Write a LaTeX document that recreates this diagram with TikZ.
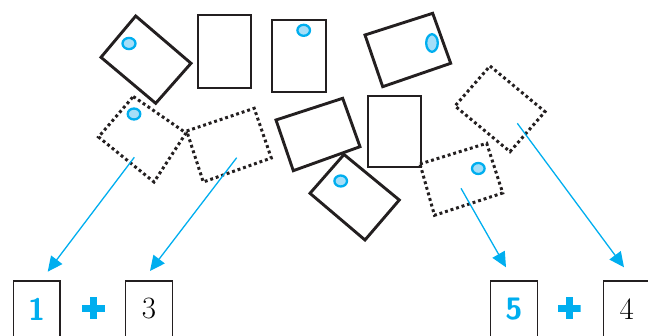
\documentclass[tikz,border=0pt]{standalone}
\usetikzlibrary{arrows.meta}
\definecolor{ink}{RGB}{35,31,32}
\definecolor{pcyan}{RGB}{0,174,239}
\definecolor{lcyan}{RGB}{165,222,248}
\begin{document}
\begin{tikzpicture}[x=1pt,y=-1pt,
  solidcard/.style={draw=ink,line width=2.9pt,line join=miter},
  dotcard/.style={draw=ink,line width=3pt,dash pattern=on 2.9pt off 2.9pt},
  marker/.style={draw=pcyan,fill=lcyan,line width=2.3pt},
  pointer/.style={draw=pcyan,line width=1.3pt,-{Triangle[length=15pt,width=14pt]}},
  numbox/.style={draw=ink,line width=1.2pt,minimum width=46.7pt,minimum height=56pt,inner sep=0pt,
    font=\fontsize{31}{31}\selectfont},
  cyannum/.style={text=pcyan,font=\fontsize{31}{31}\selectfont\sffamily\bfseries},
  plussign/.style={minimum width=23pt,minimum height=22pt,inner sep=0pt,
    path picture={
      \fill[pcyan] ([xshift=-3.5pt]path picture bounding box.north) rectangle ([xshift=3.5pt]path picture bounding box.south);
      \fill[pcyan] ([yshift=-3.5pt]path picture bounding box.west) rectangle ([yshift=3.5pt]path picture bounding box.east);}}
]
\useasboundingbox (0,0) rectangle (648,336);

% solid cards
\draw[solidcard] (135.7,16) -- (191,63.3) -- (155.7,103.3) -- (101,57.3) -- cycle;
\draw[solidcard] (198,15) rectangle (251,88);
\draw[solidcard] (272,20) rectangle (326,92);
\draw[solidcard] (365,35) -- (432.7,13.3) -- (450.7,63.3) -- (382.7,86.7) -- cycle;
\draw[solidcard] (276,120) -- (342.7,98.3) -- (360,146.7) -- (293.3,170.7) -- cycle;
\draw[solidcard] (368,96) rectangle (421,167);
\draw[solidcard] (344,154.5) -- (399.3,200) -- (365,240) -- (310,193.3) -- cycle;

% dotted cards
\draw[dotcard] (133.3,96.5) -- (186,133) -- (154,182) -- (98.5,137) -- cycle;
\draw[dotcard] (186.7,131) -- (254.2,108.3) -- (271.3,158) -- (203.3,182) -- cycle;
\draw[dotcard] (420,164) -- (486.7,143.3) -- (502.7,193) -- (434.5,215.3) -- cycle;
\draw[dotcard] (490,66) -- (545,111.7) -- (510,151.7) -- (455,106) -- cycle;

% markers
\draw[marker] (129,43.5) ellipse [x radius=6.5pt, y radius=5.6pt];
\draw[marker] (303.7,30.3) ellipse [x radius=6.3pt, y radius=5.5pt];
\draw[marker] (432,43) ellipse [x radius=5.8pt, y radius=8.8pt];
\draw[marker] (134,114) ellipse [x radius=6.3pt, y radius=5.5pt];
\draw[marker] (340.7,181) ellipse [x radius=6.3pt, y radius=5.5pt];
\draw[marker] (478.3,168.5) ellipse [x radius=6.3pt, y radius=5.5pt];

% bottom boxes
\node[numbox,cyannum] (b1) at (36.7,309) {1};
\node[plussign] (p1) at (93.3,308.3) {};
\node[numbox] (b3) at (149,309) {3};
\node[numbox,cyannum] (b5) at (514,309) {5};
\node[plussign] (p2) at (569,308.3) {};
\node[numbox] (b4) at (626.7,309) {4};

% arrow ends
\coordinate (s1) at (134.3,157.3);
\coordinate (s2) at (236.7,157.7);
\coordinate (s3) at (461,188.3);
\coordinate (s4) at (517.3,123.3);
\coordinate (t1) at (47.7,271.7);
\coordinate (t2) at (150,271);
\coordinate (t3) at (506,267.3);
\coordinate (t4) at (624,267.3);
\draw[pointer] (s1) -- (t1);
\draw[pointer] (s2) -- (t2);
\draw[pointer] (s3) -- (t3);
\draw[pointer] (s4) -- (t4);
\end{tikzpicture}
\end{document}
